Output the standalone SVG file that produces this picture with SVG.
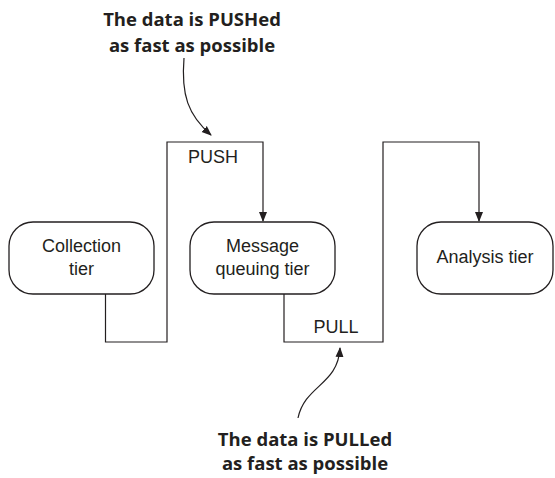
<svg xmlns="http://www.w3.org/2000/svg" width="555" height="478" viewBox="0 0 555 478">
<style>
.box{fill:#fff;stroke:#231f20;stroke-width:1.3}
.ln{fill:none;stroke:#231f20;stroke-width:1.2}
.t{font-family:"Liberation Sans",Arial,sans-serif;font-size:18px;fill:#231f20;text-anchor:middle}
.c{font-family:"Open Sans","Liberation Sans",sans-serif;font-weight:bold;font-size:18.5px;fill:#231f20;text-anchor:middle}
</style>
<defs>
<marker id="ah" markerWidth="10" markerHeight="10" refX="9" refY="5" orient="auto" markerUnits="userSpaceOnUse">
<path d="M0,1 L10,5 L0,9 Z" fill="#231f20"/>
</marker>
</defs>
<rect width="555" height="478" fill="#fff"/>
<g id="connectors">
<polyline class="ln" points="105.5,294 105.5,342 167,342 167,142 263,142 263,221" marker-end="url(#ah)"/>
<polyline class="ln" points="284,294 284,342 383,342 383,142 479,142 479,221" marker-end="url(#ah)"/>
<path class="ln" d="M184,58 C181,95 188,115 211,135" marker-end="url(#ah)"/>
<path class="ln" d="M298,418 C305,385 338,385 340,348" marker-end="url(#ah)"/>
<text class="t" x="213" y="163">PUSH</text>
<text class="t" x="336" y="333">PULL</text>
</g>
<g id="collection">
<rect class="box" x="9" y="222" width="145" height="72" rx="24"/>
<text class="t" x="81.5" y="252">Collection</text>
<text class="t" x="81.5" y="275">tier</text>
</g>
<g id="queue">
<rect class="box" x="190" y="222" width="145" height="72" rx="24"/>
<text class="t" x="262.5" y="252">Message</text>
<text class="t" x="262.5" y="275">queuing tier</text>
</g>
<g id="analysis">
<rect class="box" x="417" y="222" width="136" height="72" rx="24"/>
<text class="t" x="485" y="263">Analysis tier</text>
</g>
<g id="notes">
<text class="c" x="192" y="26">The data is PUSHed</text>
<text class="c" x="192" y="52">as fast as possible</text>
<text class="c" x="305" y="446">The data is PULLed</text>
<text class="c" x="305" y="470">as fast as possible</text>
</g>
</svg>
